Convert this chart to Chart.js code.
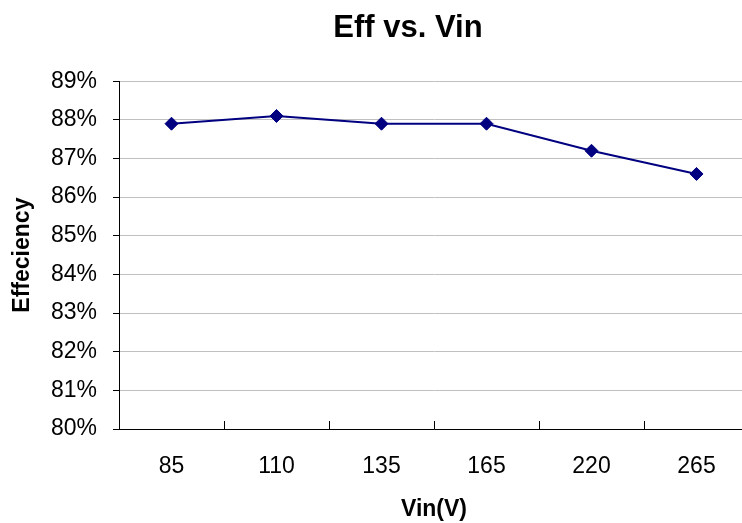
<!DOCTYPE html>
<html>
<head>
<meta charset="utf-8">
<script src="https://cdn.jsdelivr.net/npm/chart.js@4/dist/chart.umd.min.js"></script>
<style>
  html, body { margin: 0; padding: 0; background: #ffffff; }
  #wrap { width: 742px; height: 523px; overflow: hidden; position: relative; background: #ffffff; }
  canvas { display: block; }
</style>
</head>
<body>
<div id="wrap"><canvas id="c" width="816" height="523"></canvas></div>
<script>
const chartTitle = 'Eff vs. Vin';
const xAxisTitle = 'Vin(V)';
const yAxisTitle = 'Effeciency';
const categories = ['85', '110', '135', '165', '220', '265'];
const efficiency = [87.9, 88.1, 87.9, 87.9, 87.2, 86.6];
const yMin = 80;
const yMax = 89;
const yStep = 1;

const FONT = "'Liberation Sans', Arial, Helvetica, sans-serif";

new Chart(document.getElementById('c'), {
  type: 'line',
  data: {
    labels: categories,
    datasets: [{
      label: 'Efficiency',
      data: efficiency,
      yAxisID: 'y',
      borderColor: '#000080',
      backgroundColor: '#000080',
      borderWidth: 2,
      tension: 0,
      pointStyle: 'rectRot',
      pointRadius: 6.5,
      pointHoverRadius: 6.5,
      pointBackgroundColor: '#000080',
      pointBorderColor: '#000080',
      pointBorderWidth: 1,
      fill: false
    }]
  },
  options: {
    responsive: false,
    devicePixelRatio: 1,
    animation: false,
    events: [],
    layout: { padding: { left: 0, right: 0, top: 0, bottom: 0 } },
    plugins: {
      legend: { display: false },
      tooltip: { enabled: false },
      title: {
        display: true,
        text: chartTitle,
        color: '#000000',
        font: { family: FONT, size: 31, weight: 'bold', lineHeight: 1.2 },
        padding: { top: 10, bottom: 34 }
      }
    },
    scales: {
      x: {
        type: 'category',
        offset: true,
        afterFit: (s) => { s.height = 94; },
        border: { display: true, color: '#000000', width: 1 },
        grid: {
          display: true,
          offset: true,
          drawOnChartArea: false,
          drawTicks: true,
          tickLength: -8,
          tickColor: '#000000',
          color: '#000000'
        },
        ticks: {
          color: '#000000',
          font: { family: FONT, size: 23 },
          padding: 32,
          maxRotation: 0,
          autoSkip: false
        },
        title: {
          display: true,
          text: xAxisTitle,
          color: '#000000',
          font: { family: FONT, size: 23, weight: 'bold', lineHeight: 1.2 },
          padding: { top: 10, bottom: 0 }
        }
      },
      y: {
        min: yMin,
        max: yMax,
        afterFit: (s) => { s.width = 119; },
        border: { display: true, color: '#000000', width: 1 },
        grid: {
          display: true,
          color: '#c0c0c0',
          lineWidth: 1,
          drawTicks: true,
          tickLength: 6,
          tickColor: '#000000'
        },
        ticks: {
          stepSize: yStep,
          color: '#000000',
          font: { family: FONT, size: 23 },
          padding: 16,
          callback: (v) => v + '%'
        },
        title: {
          display: true,
          text: yAxisTitle,
          color: '#000000',
          font: { family: FONT, size: 23, weight: 'bold', lineHeight: 1.2 },
          padding: { top: 9, bottom: 10 }
        }
      },
      yRightSpace: {
        position: 'right',
        display: true,
        min: 0,
        max: 1,
        afterFit: (s) => { s.width = 67; },
        border: { display: false },
        grid: { display: false, drawTicks: false },
        ticks: { display: false },
        title: { display: false }
      }
    }
  }
});
</script>
</body>
</html>
